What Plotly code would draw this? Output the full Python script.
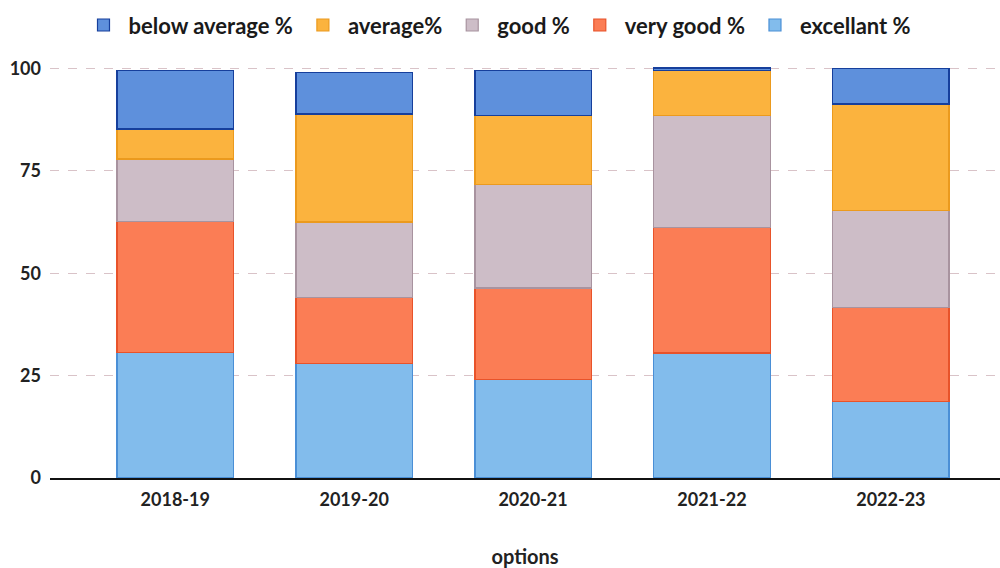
import plotly.graph_objects as go

years = ["2018-19", "2019-20", "2020-21", "2021-22", "2022-23"]
excellent = [30.6, 28.0, 24.0, 30.5, 18.6]
very_good = [32.0, 16.0, 22.4, 30.7, 23.1]
good = [15.3, 18.5, 25.3, 27.4, 23.7]
average = [7.3, 26.4, 16.9, 10.9, 25.9]
below_average = [14.3, 10.1, 11.0, 0.6, 8.7]
y_ticks = [0, 25, 50, 75, 100]

series = [
    ("excellant %", excellent, "#82bcec", "#4a8fd6"),
    ("very good %", very_good, "#fb7d55", "#e8532a"),
    ("good %", good, "#cdbdc7", "#a8939f"),
    ("average%", average, "#fbb33e", "#eb9a1e"),
    ("below average %", below_average, "#5e90dc", "#163f9c"),
]

fig = go.Figure()
for name, vals, col, line in series:
    fig.add_trace(go.Bar(
        x=years, y=vals, name=name,
        marker=dict(color=col, line=dict(color=line, width=1.2)),
    ))

font = "Lato, 'Open Sans', sans-serif"
fig.update_layout(
    barmode="stack",
    bargap=0.35,
    width=1000, height=568,
    margin=dict(l=50, r=0, t=66, b=90),
    paper_bgcolor="white", plot_bgcolor="white",
    font=dict(family=font, size=17, color="#222222"),
    legend=dict(
        orientation="h", traceorder="reversed",
        x=0.03, xanchor="left", y=1.15, yanchor="top",
        font=dict(family=font, size=22, color="#1a1a1a", weight="bold"),
        bgcolor="rgba(0,0,0,0)",
        itemwidth=40,
    ),
    xaxis=dict(
        range=[-0.7, 4.61],
        showline=True, linecolor="#111111", linewidth=2,
        ticks="", showgrid=False, ticklabelstandoff=4,
        tickfont=dict(family=font, size=18, color="#222222", weight="bold"),
        title=dict(text="options", standoff=44,
                   font=dict(family=font, size=20, color="#222222", weight="bold")),
    ),
    yaxis=dict(
        range=[0, 100.6], tickvals=y_ticks,
        showgrid=True, gridcolor="#d9c3c8", griddash="dash", gridwidth=1,
        zeroline=False, ticks="", ticklabelstandoff=8,
        tickfont=dict(family=font, size=18, color="#222222", weight="bold"),
    ),
)

fig.write_html("out.html")
